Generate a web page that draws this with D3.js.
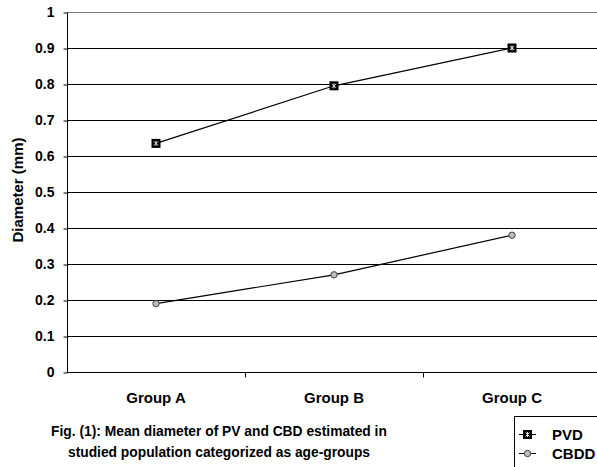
<!DOCTYPE html>
<html>
<head>
<meta charset="utf-8">
<script src="https://cdn.jsdelivr.net/npm/d3@7"></script>
<style>
  html, body { margin: 0; padding: 0; background: #fff; }
  svg { display: block; font-family: "Liberation Sans", Arial, sans-serif; }
</style>
</head>
<body>
<svg id="chart" width="597" height="467"></svg>
<script>
// Mean diameter (mm) by age group
const categories = ["Group A", "Group B", "Group C"];
const pvdValues = [0.635, 0.795, 0.9];
const cbddValues = [0.19, 0.27, 0.38];
const yTicks = [0, 0.1, 0.2, 0.3, 0.4, 0.5, 0.6, 0.7, 0.8, 0.9, 1];
const seriesNames = ["PVD", "CBDD"];

const svg = d3.select("#chart");

const plot = { left: 67, right: 601, top: 12, bottom: 372 };

const x = d3.scaleBand().domain(categories).range([plot.left, plot.right]);
const y = d3.scaleLinear().domain([0, 1]).range([plot.bottom, plot.top]);

// horizontal gridlines
svg.append("g")
  .selectAll("line")
  .data(yTicks.filter(t => t > 0))
  .join("line")
  .attr("x1", plot.left).attr("x2", plot.right)
  .attr("y1", d => Math.round(y(d)) + 0.5).attr("y2", d => Math.round(y(d)) + 0.5)
  .attr("stroke", d => d === 1 ? "#808080" : "#000")
  .attr("stroke-width", 1);

// y axis
const yAxis = svg.append("g")
  .attr("transform", `translate(${plot.left + 0.5},0.5)`)
  .call(d3.axisLeft(y).tickValues(yTicks).tickSize(4).tickPadding(9)
    .tickFormat(d => d === 0 ? "0" : d === 1 ? "1" : d3.format(".1f")(d)));
yAxis.select(".domain").attr("stroke", "#000").attr("d", `M0,${plot.top}V${plot.bottom}`);
yAxis.selectAll(".tick line").attr("stroke", "#000");
yAxis.selectAll(".tick text")
  .attr("fill", "#000").attr("font-size", "14px").attr("font-weight", "bold")
  .attr("font-family", "'Liberation Sans', Arial, sans-serif");

// x axis with ticks between categories
const xAxisG = svg.append("g").attr("transform", `translate(0,${plot.bottom + 0.5})`);
xAxisG.append("line")
  .attr("x1", plot.left).attr("x2", plot.right)
  .attr("y1", 0).attr("y2", 0).attr("stroke", "#000");
xAxisG.selectAll("line.tk")
  .data(categories.slice(1))
  .join("line").attr("class", "tk")
  .attr("x1", d => Math.round(x(d)) + 0.5).attr("x2", d => Math.round(x(d)) + 0.5)
  .attr("y1", 0).attr("y2", 5).attr("stroke", "#000");
xAxisG.selectAll("text")
  .data(categories)
  .join("text")
  .attr("x", d => x(d) + x.bandwidth() / 2)
  .attr("y", 30)
  .attr("text-anchor", "middle")
  .attr("font-size", "15px").attr("font-weight", "bold")
  .text(d => d);

// y axis title
svg.append("text")
  .attr("transform", `translate(23,${(plot.top + plot.bottom) / 2 - 2}) rotate(-90)`)
  .attr("text-anchor", "middle")
  .attr("font-size", "15px").attr("font-weight", "bold")
  .text("Diameter (mm)");

const cx = d => x(d) + x.bandwidth() / 2;
const line = d3.line().x(d => cx(d.cat)).y(d => y(d.v));

function pvdMarker(g) {
  g.append("rect").attr("x", -4.5).attr("y", -4.5).attr("width", 9).attr("height", 9).attr("fill", "#000");
  g.append("path")
    .attr("d", "M-2,-2L2,2M2,-2L-2,2M0,-2.5V2.5")
    .attr("stroke", "#fff").attr("stroke-width", 0.9).attr("fill", "none");
}
function cbddMarker(g) {
  g.append("circle").attr("r", 3.2).attr("fill", "#bdbdbd").attr("stroke", "#333").attr("stroke-width", 0.9);
}

const pvdData = categories.map((c, i) => ({ cat: c, v: pvdValues[i] }));
const cbddData = categories.map((c, i) => ({ cat: c, v: cbddValues[i] }));

[[pvdData, pvdMarker], [cbddData, cbddMarker]].forEach(([data, marker]) => {
  svg.append("path").datum(data)
    .attr("d", line).attr("fill", "none").attr("stroke", "#000").attr("stroke-width", 1.2);
  svg.append("g").selectAll("g")
    .data(data).join("g")
    .attr("transform", d => `translate(${cx(d.cat)},${y(d.v)})`)
    .each(function () { marker(d3.select(this)); });
});

// caption
const caption = svg.append("text")
  .attr("text-anchor", "middle").attr("font-size", "13.8px").attr("font-weight", "bold");
caption.append("tspan").attr("x", 219).attr("y", 436).text("Fig. (1): Mean diameter of PV and CBD estimated in");
caption.append("tspan").attr("x", 219).attr("y", 457).text("studied population categorized as age-groups");

// legend
const legend = svg.append("g");
legend.append("rect")
  .attr("x", 514.5).attr("y", 416.5).attr("width", 100).attr("height", 80)
  .attr("fill", "#fff").attr("stroke", "#000");
const markers = [pvdMarker, cbddMarker];
const rowY = [434, 453];
seriesNames.forEach((name, i) => {
  const row = legend.append("g").attr("transform", `translate(0,${rowY[i]})`);
  row.append("line").attr("x1", 519).attr("x2", 536).attr("y1", 0.5).attr("y2", 0.5)
    .attr("stroke", "#000");
  row.append("g").attr("transform", "translate(527.5,0.5)").each(function () { markers[i](d3.select(this)); });
  row.append("text").attr("x", 552).attr("y", 5.5).attr("font-size", "15px").attr("font-weight", "bold").text(name);
});
</script>
</body>
</html>
